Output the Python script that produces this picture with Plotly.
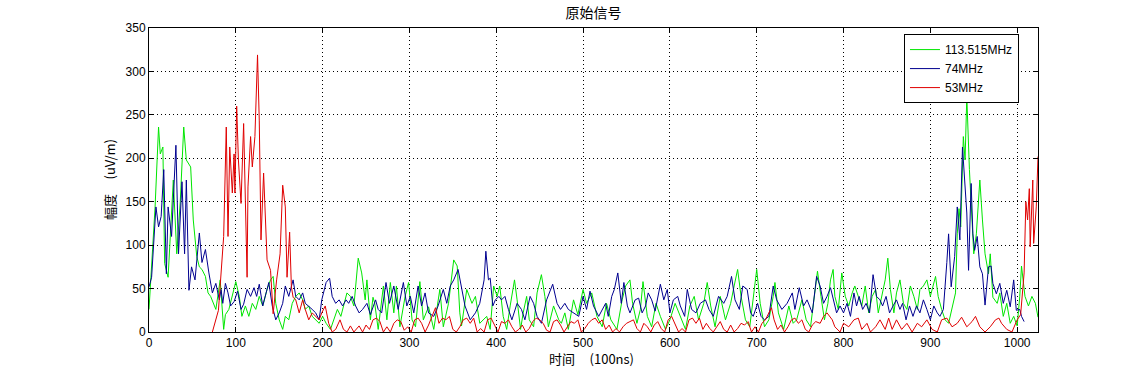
import plotly.graph_objects as go

# ---------------- data ----------------
green_t = [0, 4, 7, 11, 13, 16, 18, 22, 26, 28, 32, 36, 40, 43, 48, 51, 55, 58, 61, 65, 68, 71, 77, 80, 82, 86, 88,
           92, 96, 100, 104, 107, 111, 115, 119, 123, 127, 131, 136, 140, 143, 146, 150, 154, 157, 161, 165, 169,
           173, 177, 180, 184, 188, 192, 196, 200, 204, 209, 213, 217, 221, 225, 228, 232, 236, 241, 245, 249,
           251, 255, 258, 260, 264, 270, 274, 278, 282, 285, 289, 295, 299, 303, 307, 312, 316, 322, 328, 335,
           339, 345, 351, 355, 358, 360, 366, 372, 376, 381, 389, 393, 397, 401, 404, 408, 412, 416, 421, 424,
           428, 431, 435, 438, 443, 447, 452, 456, 460, 466, 472, 475, 479, 483, 489, 494, 500, 504, 510, 516,
           522, 527, 532, 539, 545, 549, 554, 557, 562, 566, 569, 574, 579, 584, 589, 595, 600, 606, 612, 618,
           623, 628, 633, 639, 643, 647, 652, 658, 664, 670, 674, 678, 682, 687, 692, 696, 700, 704, 709, 714,
           719, 721, 725, 731, 737, 742, 746, 752, 757, 762, 766, 770, 774, 778, 782, 785, 788, 790, 794, 798,
           802, 806, 810, 813, 817, 821, 825, 829, 833, 837, 840, 844, 848, 851, 854, 858, 861, 865, 869, 873,
           877, 881, 885, 888, 892, 896, 900, 906, 909, 913, 917, 921, 925, 929, 931, 933, 935, 938, 940, 942,
           945, 947, 950, 953, 957, 960, 963, 967, 969, 972, 977, 980, 984, 988, 992, 996, 1000, 1003, 1005,
           1009, 1013, 1017, 1021, 1024]
green_v = [26, 90, 144, 236, 205, 213, 79, 63, 129, 175, 90, 150, 236, 198, 190, 129, 87, 75, 72, 64, 45, 41, 26,
           50, 60, 3, 20, 26, 41, 58, 41, 18, 30, 18, 33, 26, 41, 30, 49, 60, 64, 33, 14, 3, 18, 14, 33, 41,
           45, 37, 26, 30, 18, 14, 10, 18, 10, 3, 14, 26, 18, 33, 45, 41, 30, 85, 68, 37,
           60, 14, 40, 33, 3, 53, 14, 57, 22, 53, 6, 41, 57, 14, 6, 58, 14, 29, 3, 49,
           6, 33, 83, 76, 22, 7, 49, 33, 41, 10, 18, 3, 53, 41, 53, 18, 3, 30, 60, 37,
           3, 22, 41, 14, 6, 45, 66, 41, 6, 30, 14, 10, 22, 3, 37, 20, 49, 33, 45, 18,
           6, 33, 14, 3, 37, 53, 60, 33, 10, 26, 58, 18, 6, 33, 18, 3, 14, 33, 18, 3,
           30, 41, 14, 33, 57, 30, 6, 41, 14, 33, 53, 72, 41, 14, 6, 41, 72, 33, 6, 14,
           41, 57, 22, 3, 30, 10, 14, 37, 14, 6, 37, 70, 41, 14, 33, 60, 72, 41, 26, 68,
           41, 30, 45, 53, 41, 30, 53, 22, 41, 49, 22, 41, 60, 85, 49, 22, 45, 60, 33, 26,
           53, 41, 26, 49, 53, 60, 41, 64, 41, 26, 14, 10, 26, 45, 113, 142, 121, 225, 198, 271,
           187, 144, 90, 113, 175, 129, 90, 67, 90, 40, 33, 45, 18, 33, 10, 18, 7, 41, 76,
           41, 30, 41, 33, 17]

blue_t = [0, 3, 8, 11, 14, 17, 20, 22, 26, 31, 34, 38, 41, 43, 46, 49, 53, 58, 61, 65, 69, 73, 77, 81, 83, 85, 88,
          91, 94, 98, 102, 106, 109, 113, 117, 121, 124, 127, 131, 134, 138, 142, 146, 150, 154, 157, 161, 166,
          169, 173, 177, 180, 184, 188, 192, 196, 199, 204, 208, 211, 215, 219, 223, 227, 230, 234, 238, 242,
          246, 251, 255, 261, 264, 268, 273, 277, 282, 287, 293, 297, 301, 305, 310, 314, 318, 322, 328, 333,
          339, 343, 347, 351, 356, 360, 364, 370, 376, 381, 383, 386, 388, 391, 393, 396, 399, 403, 406, 410,
          414, 418, 424, 429, 433, 439, 443, 447, 452, 458, 465, 470, 474, 479, 483, 489, 495, 500, 504, 508,
          512, 518, 526, 529, 533, 536, 540, 544, 547, 551, 554, 560, 564, 568, 572, 575, 579, 583, 589, 593,
          597, 600, 604, 609, 612, 617, 620, 625, 630, 635, 641, 645, 650, 656, 662, 666, 671, 675, 680, 684,
          689, 693, 696, 701, 705, 709, 714, 719, 723, 729, 735, 741, 744, 749, 754, 758, 764, 769, 773, 777,
          781, 785, 789, 792, 796, 800, 804, 808, 812, 815, 818, 822, 826, 830, 834, 838, 842, 845, 849, 853,
          857, 861, 865, 868, 872, 876, 880, 884, 888, 892, 896, 900, 904, 908, 911, 915, 919, 921, 924, 928,
          931, 934, 937, 939, 942, 944, 947, 949, 951, 954, 957, 960, 963, 967, 970, 972, 976, 980, 984, 988,
          992, 996, 999, 1003, 1005, 1008]
blue_v = [52, 63, 144, 121, 133, 187, 67, 144, 110, 215, 90, 173, 90, 175, 48, 75, 60, 114, 80, 95, 68, 45, 56,
          37, 49, 33, 56, 45, 30, 35, 47, 26, 32, 49, 41, 51, 41, 55, 30, 41, 57, 30, 14, 22, 33, 53, 41, 60,
          41, 37, 45, 33, 30, 26, 22, 14, 37, 57, 62, 41, 33, 37, 30, 37, 33, 41, 30, 22,
          26, 33, 20, 37, 26, 22, 57, 33, 53, 26, 57, 30, 41, 22, 53, 30, 45, 22, 18, 30,
          49, 33, 53, 60, 72, 49, 30, 14, 22, 33, 45, 60, 93, 60, 62, 30, 37, 41, 37, 41,
          26, 14, 33, 26, 14, 41, 33, 18, 10, 37, 55, 33, 26, 33, 26, 22, 18, 41, 26, 47,
          30, 18, 33, 18, 41, 49, 68, 33, 57, 30, 22, 37, 39, 22, 30, 45, 37, 24, 55, 37,
          49, 22, 37, 41, 30, 18, 49, 26, 22, 33, 37, 26, 18, 41, 33, 41, 64, 37, 26, 53,
          49, 22, 18, 33, 18, 14, 18, 53, 37, 26, 33, 45, 26, 51, 30, 37, 22, 64, 53, 33,
          41, 51, 33, 22, 30, 22, 33, 18, 45, 30, 41, 26, 33, 22, 66, 41, 37, 30, 41, 22,
          30, 37, 26, 33, 14, 30, 18, 30, 22, 37, 26, 14, 30, 22, 18, 26, 80, 113, 52, 87,
          144, 106, 213, 179, 137, 71, 171, 113, 94, 110, 75, 67, 31, 75, 76, 56, 44, 56, 33, 48,
          29, 60, 25, 26, 18, 12]

red_t = [73, 80, 86, 89, 91, 93, 96, 98, 99, 101, 103, 106, 109, 111, 113, 114, 117, 119, 122, 125, 127, 129,
         132, 136, 140, 143, 147, 151, 154, 157, 159, 162, 164, 166, 169, 173, 177, 180, 184, 188, 192, 196,
         199, 203, 207, 211, 215, 220, 224, 228, 232, 236, 242, 246, 250, 254, 258, 262, 266, 270, 274, 278,
         282, 286, 290, 294, 298, 302, 306, 310, 314, 318, 322, 326, 330, 334, 338, 342, 346, 350, 354, 358,
         362, 366, 370, 374, 378, 382, 386, 390, 394, 398, 402, 406, 410, 414, 418, 422, 426, 430, 434, 438,
         442, 446, 450, 454, 458, 462, 466, 470, 474, 478, 482, 486, 490, 494, 498, 502, 506, 510, 514, 518,
         522, 526, 530, 534, 538, 542, 546, 550, 554, 558, 562, 566, 570, 574, 578, 582, 586, 590, 594, 598,
         602, 606, 610, 614, 618, 622, 626, 630, 634, 638, 642, 646, 650, 654, 658, 662, 666, 670, 674, 678,
         682, 686, 690, 694, 698, 702, 706, 710, 714, 717, 720, 724, 728, 732, 736, 740, 744, 748, 752, 756,
         760, 764, 768, 773, 777, 781, 787, 790, 796, 800, 806, 812, 817, 821, 827, 831, 837, 842, 848, 852,
         856, 861, 867, 873, 879, 885, 890, 896, 902, 908, 913, 919, 925, 931, 936, 942, 948, 952, 957, 963,
         969, 975, 979, 982, 988, 994, 1000, 1004, 1008, 1010, 1012, 1014, 1015, 1018, 1019, 1022, 1024]
red_v = [0, 25, 110, 236, 110, 213, 160, 205, 160, 260, 198, 148, 240, 160, 63, 167, 225, 190, 225, 319, 244, 106,
         183, 83, 71, 21, 60, 90, 169, 144, 63, 115, 52, 40, 37, 22, 37, 26, 14, 22, 18, 14,
         22, 30, 10, 0, 3, 14, 3, 0, 7, 0, 7, 0, 8, 3, 14, 16, 12, 0, 6, 0,
         10, 14, 12, 2, 6, 0, 14, 16, 10, 0, 8, 18, 28, 10, 16, 14, 18, 3, 0, 6,
         14, 16, 10, 16, 0, 4, 0, 14, 16, 8, 0, 12, 10, 14, 6, 0, 3, 8, 0, 4,
         12, 16, 14, 10, 2, 0, 12, 14, 8, 0, 6, 12, 10, 14, 0, 4, 10, 14, 16, 10,
         14, 3, 8, 0, 4, 0, 6, 10, 12, 14, 4, 0, 10, 6, 0, 8, 12, 4, 0, 14,
         18, 8, 0, 4, 0, 14, 16, 10, 16, 3, 10, 4, 0, 6, 12, 3, 0, 8, 0, 4,
         10, 8, 12, 0, 6, 0, 10, 14, 22, 28, 14, 3, 8, 0, 6, 14, 16, 10, 14, 3,
         0, 8, 12, 10, 18, 22, 14, 6, 0, 10, 6, 14, 16, 3, 10, 0, 6, 14, 3, 16,
         3, 14, 3, 10, 0, 10, 6, 14, 3, 0, 14, 16, 6, 10, 17, 6, 12, 18, 6, 0,
         6, 14, 16, 10, 3, 0, 14, 20, 68, 150, 129, 165, 98, 175, 102, 144, 202]

series_names = ["113.515MHz", "74MHz", "53MHz"]
series_colors = ["#00e600", "#00008f", "#e00000"]

x_ticks = list(range(0, 1001, 100))
y_ticks = list(range(0, 351, 50))

title_text = "原始信号"
xlabel_text = "时间\u00a0\u00a0\u00a0\u00a0\u00a0(100ns)"
ylabel_text = "幅度\u00a0\u00a0\u00a0\u00a0\u00a0(uV/m)"

# ---------------- figure ----------------
FONT = "Liberation Sans, Arial, Noto Sans CJK SC, sans-serif"
CJK = "Noto Sans CJK SC, Liberation Sans, sans-serif"

fig = go.Figure()
for t, v, name, col in zip([green_t, blue_t, red_t], [green_v, blue_v, red_v], series_names, series_colors):
    fig.add_trace(go.Scatter(x=t, y=v, mode="lines", name=name,
                             line=dict(color=col, width=1), cliponaxis=True))

axis_common = dict(
    showline=True, linecolor="black", linewidth=1, mirror="ticks",
    ticks="inside", ticklen=5, tickcolor="black", tickwidth=1,
    showgrid=True, gridcolor="black", griddash="1px,3px", gridwidth=1,
    zeroline=False, tickfont=dict(family=FONT, size=12, color="black"),
    automargin=False,
)

fig.update_xaxes(range=[0, 1024], tickvals=x_ticks, ticktext=[str(v) for v in x_ticks], **axis_common)
fig.update_yaxes(range=[0, 350], tickvals=y_ticks, ticktext=[str(v) for v in y_ticks], **axis_common)

# plot area at x 149..1038, y 28..332 of the 1147x373 window
fig.update_layout(
    width=1147, height=373,
    margin=dict(l=149, r=109, t=28, b=41, autoexpand=False),
    paper_bgcolor="white", plot_bgcolor="white",
    title=dict(text=title_text, x=0.5175, xanchor="center", y=0.965, yanchor="middle",
               font=dict(family=CJK, size=14, color="black"), automargin=False),
    legend=dict(x=0.9786, y=0.980, xanchor="right", yanchor="top",
                bgcolor="white", bordercolor="black", borderwidth=1,
                font=dict(family=FONT, size=12, color="black"),
                tracegroupgap=0, itemwidth=30),
    showlegend=True,
    annotations=[
        dict(text=xlabel_text, xref="paper", yref="paper", x=0.4977, y=0, xanchor="center",
             yanchor="middle", yshift=-26, showarrow=False,
             font=dict(family=CJK, size=13, color="black")),
        dict(text=ylabel_text, xref="paper", yref="paper", x=0, y=0.5, xanchor="center",
             yanchor="middle", xshift=-40, textangle=-90, showarrow=False,
             font=dict(family=CJK, size=13, color="black")),
    ],
)

fig.write_html("out.html",
               config={"displayModeBar": False},
               post_script="document.body.style.margin='0';document.body.style.overflow='hidden';")
